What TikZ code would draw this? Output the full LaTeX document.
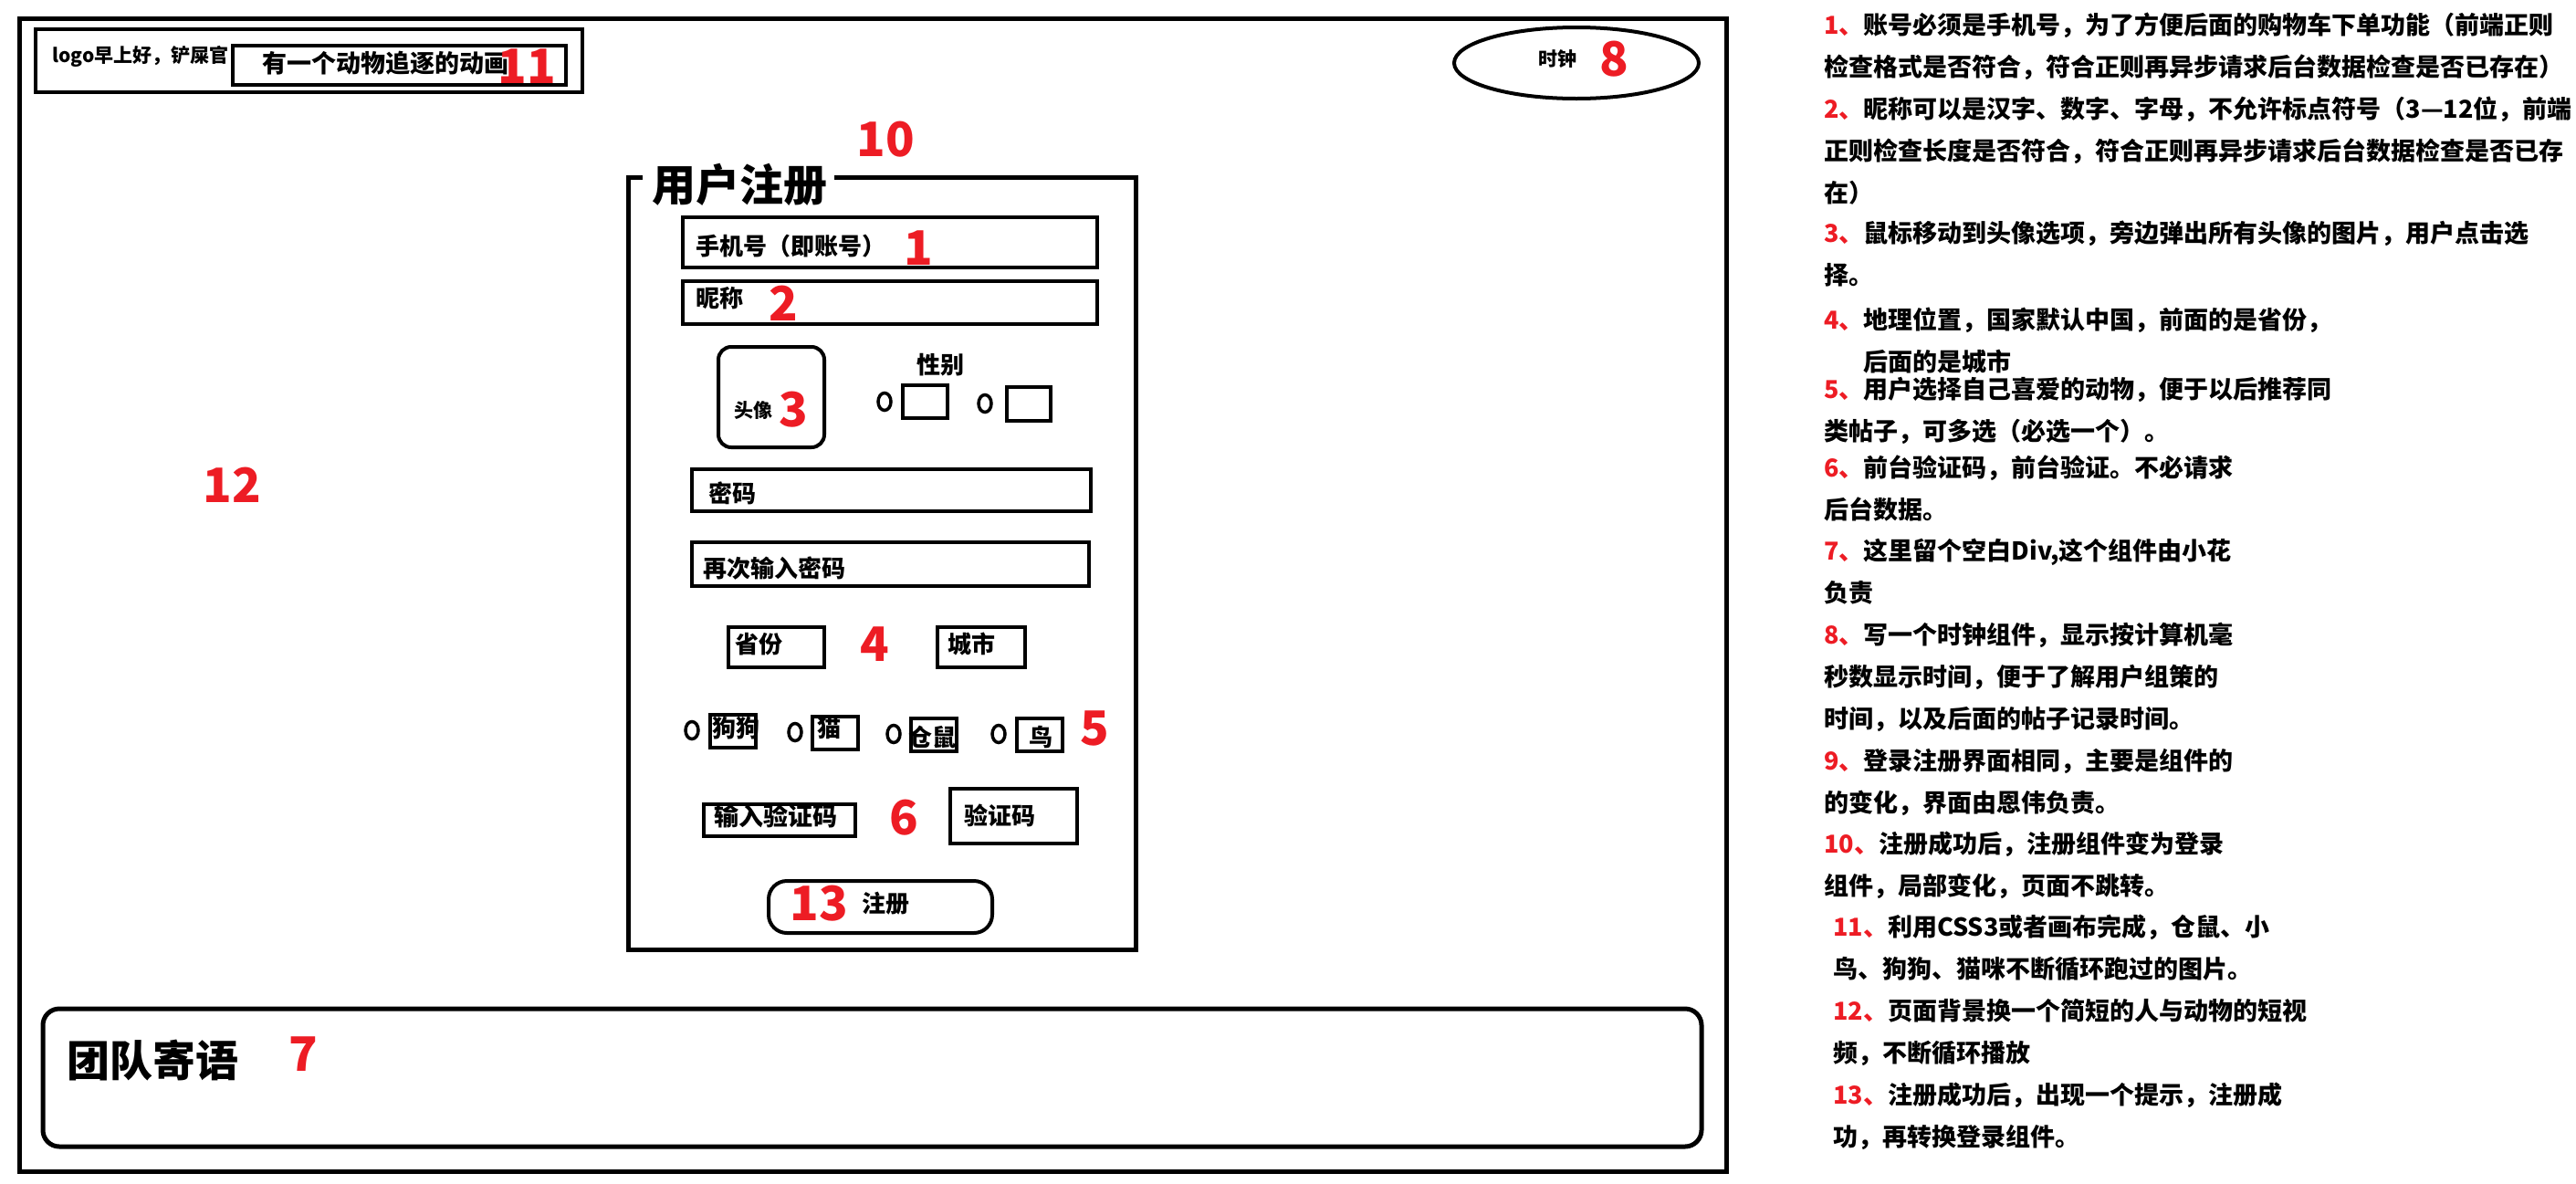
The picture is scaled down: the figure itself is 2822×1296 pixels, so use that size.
\documentclass[tikz,border=0pt]{standalone}
\usepackage{fontspec}
\setmainfont{Noto Sans CJK SC}
\usetikzlibrary{shapes.geometric}
\definecolor{pred}{RGB}{237,28,36}
\newcommand{\mockFont}[1]{\fontsize{#1}{#1}\selectfont\bfseries}
\newcommand{\rn}[1]{\textcolor{pred}{#1、}}

\begin{document}
\begin{tikzpicture}[x=1pt,y=-1pt]
  \tikzset{
    frame/.style={draw,line width=5pt},
    field/.style={draw,line width=4pt},
    radio/.style={draw,line width=3.5pt,ellipse,inner sep=0pt,minimum width=14pt,minimum height=19pt},
    lbl/.style={inner sep=0pt,anchor=west,font=\mockFont{26}},
    num/.style={inner sep=0pt,text=pred,font=\mockFont{52}},
    note/.style={inner sep=0pt,anchor=north west,align=left,font=\fontsize{27}{46}\selectfont\bfseries}
  }
  \useasboundingbox[fill=white] (0,0) rectangle (2822,1296);

  % page frame and header
  \draw[frame] (21,20) rectangle (1891,1283);
  \draw[field] (39,32) rectangle (638,101);
  \draw[field] (255,50) rectangle (620,93);
  \node[lbl,font=\mockFont{21}] (logo) at (57,62) {logo早上好，铲屎官};
  \node[lbl,font=\mockFont{27}] (anim) at (287,69) {有一个动物追逐的动画};
  \node[num] (n11) at (577,73) {11};
  \node[draw,line width=4pt,ellipse,minimum width=268pt,minimum height=78pt] (clock) at (1727,69) {};
  \node[lbl,font=\mockFont{21}] (clockL) at (1685,65) {时钟};
  \node[num] (n8) at (1768,65) {8};
  \node[num] (n10) at (970,153) {10};
  \node[num] (n12) at (254,531) {12};

  % register form
  \node[inner sep=0pt,font=\mockFont{48}] (title) at (810,202) {用户注册};
  \draw[frame,line join=miter] (704,194) -| (688,1040) -| (1244,194) -- (914,194);
  \draw[field] (748,238) rectangle (1202,293);
  \node[lbl] (phone) at (762,270) {手机号（即账号）};
  \node[num] (n1) at (1006,272) {1};
  \draw[field] (748,308) rectangle (1202,355);
  \node[lbl] (nick) at (762,327) {昵称};
  \node[num] (n2) at (858,332) {2};
  \draw[field,rounded corners=14pt] (787,380) rectangle (903,490);
  \node[lbl,font=\mockFont{21}] (avatar) at (804,450) {头像};
  \node[num] (n3) at (869,449) {3};
  \node[lbl] (gender) at (1004,400) {性别};
  \node[radio] (g1) at (969,440) {};
  \draw[field] (989,422) rectangle (1038,458);
  \node[radio] (g2) at (1079,442) {};
  \draw[field] (1103,424) rectangle (1151,461);
  \draw[field] (758,514) rectangle (1195,560);
  \node[lbl] (pwd) at (776,540) {密码};
  \draw[field] (758,594) rectangle (1193,642);
  \node[lbl] (pwd2) at (770,623) {再次输入密码};
  \draw[field] (798,687) rectangle (903,731);
  \node[lbl] (prov) at (805,706) {省份};
  \node[num] (n4) at (958,706) {4};
  \draw[field] (1027,687) rectangle (1123,731);
  \node[lbl] (city) at (1038,706) {城市};
  % animals
  \node[radio] (a1) at (758,800) {};
  \draw[field] (778,783) rectangle (828,819);
  \node[lbl] (dog) at (780,798) {狗狗};
  \node[radio] (a2) at (871,802) {};
  \draw[field] (890,785) rectangle (940,821);
  \node[lbl] (cat) at (895,798) {猫};
  \node[radio] (a3) at (979,804) {};
  \draw[field] (998,787) rectangle (1048,823);
  \node[lbl] (hamster) at (995,808) {仓鼠};
  \node[radio] (a4) at (1094,804) {};
  \draw[field] (1114,787) rectangle (1164,823);
  \node[lbl,anchor=center] (bird) at (1140,808) {鸟};
  \node[num] (n5) at (1199,798) {5};
  % captcha and button
  \draw[field] (771,881) rectangle (937,916);
  \node[lbl,anchor=center,font=\mockFont{27}] (capIn) at (850,894) {输入验证码};
  \node[num] (n6) at (990,896) {6};
  \draw[field] (1041,864) rectangle (1180,924);
  \node[lbl] (cap) at (1056,893) {验证码};
  \draw[field,rounded corners=20pt] (842,965) rectangle (1087,1022);
  \node[num] (n13) at (897,990) {13};
  \node[lbl] (reg) at (944,990) {注册};

  % team message
  \draw[frame,rounded corners=18pt] (47,1105) rectangle (1864,1256);
  \node[lbl,font=\mockFont{47}] (team) at (73,1162) {团队寄语};
  \node[num] (n7) at (332,1155) {7};

  % notes
  \node[note] (t1) at (1998,14) {\rn{1}账号必须是手机号，为了方便后面的购物车下单功能（前端正则\\检查格式是否符合，符合正则再异步请求后台数据检查是否已存在）};
  \node[note] (t2) at (1998,106) {\rn{2}昵称可以是汉字、数字、字母，不允许标点符号（3—12位，前端\\正则检查长度是否符合，符合正则再异步请求后台数据检查是否已存\\在）};
  \node[note] (t3) at (1998,242) {\rn{3}鼠标移动到头像选项，旁边弹出所有头像的图片，用户点击选\\择。};
  \node[note] (t4) at (1998,337) {\rn{4}地理位置，国家默认中国，前面的是省份，\\\phantom{4、}后面的是城市};
  \node[note] (t5) at (1998,413) {\rn{5}用户选择自己喜爱的动物，便于以后推荐同\\类帖子，可多选（必选一个）。};
  \node[note] (t6) at (1998,499) {\rn{6}前台验证码，前台验证。不必请求\\后台数据。};
  \node[note] (t7) at (1998,590) {\rn{7}这里留个空白Div,这个组件由小花\\负责};
  \node[note] (t8) at (1998,682) {\rn{8}写一个时钟组件，显示按计算机毫\\秒数显示时间，便于了解用户组策的\\时间，以及后面的帖子记录时间。};
  \node[note] (t9) at (1998,820) {\rn{9}登录注册界面相同，主要是组件的\\的变化，界面由恩伟负责。};
  \node[note] (t10) at (1998,911) {\rn{10}注册成功后，注册组件变为登录\\组件，局部变化，页面不跳转。};
  \node[note] (t11) at (2008,1002) {\rn{11}利用CSS3或者画布完成，仓鼠、小\\鸟、狗狗、猫咪不断循环跑过的图片。};
  \node[note] (t12) at (2008,1094) {\rn{12}页面背景换一个简短的人与动物的短视\\频，不断循环播放};
  \node[note] (t13) at (2008,1186) {\rn{13}注册成功后，出现一个提示，注册成\\功，再转换登录组件。};
\end{tikzpicture}
\end{document}
